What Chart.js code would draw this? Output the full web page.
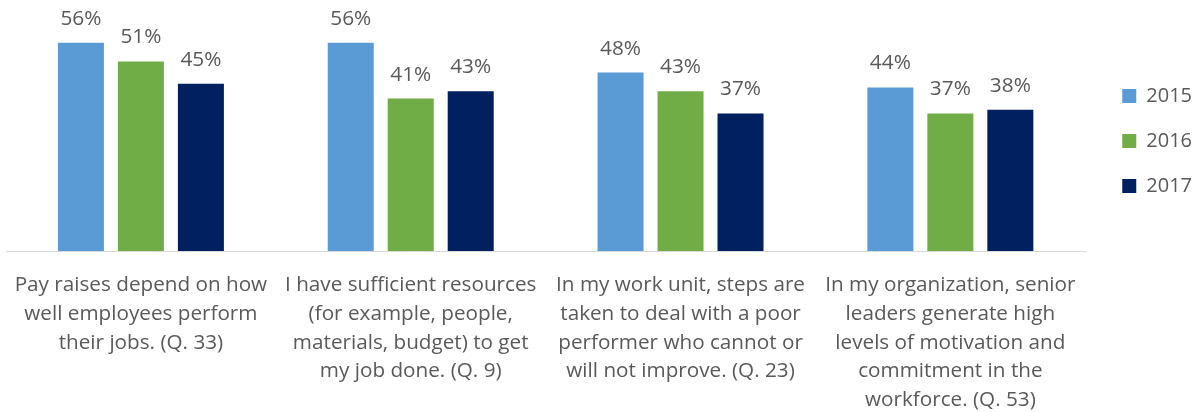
<!DOCTYPE html>
<html>
<head>
<meta charset="utf-8">
<script src="https://cdn.jsdelivr.net/npm/chart.js@4"></script>
<style>
  html, body { margin: 0; padding: 0; background: #fff; }
  #wrap { width: 1197px; height: 412px; }
</style>
</head>
<body>
<div id="wrap"><canvas id="chart" width="1197" height="412"></canvas></div>
<script>
/* ---------- Data ---------- */
const categories = [
  ['Pay raises depend on how', 'well employees perform', 'their jobs. (Q. 33)'],
  ['I have sufficient resources', '(for example, people,', 'materials, budget) to get', 'my job done. (Q. 9)'],
  ['In my work unit, steps are', 'taken to deal with a poor', 'performer who cannot or', 'will not improve. (Q. 23)'],
  ['In my organization, senior', 'leaders generate high', 'levels of motivation and', 'commitment in the', 'workforce. (Q. 53)']
];
const seriesNames = ['2015', '2016', '2017'];
const values2015 = [56, 56, 48, 44];
const values2016 = [51, 41, 43, 37];
const values2017 = [45, 43, 37, 38];
const colors = ['#5B9BD5', '#70AD47', '#002060'];

const FONT = "'Open Sans', sans-serif";
const TEXT = '#595959';

/* ---------- Value labels above bars ---------- */
const barLabels = {
  id: 'barLabels',
  afterDatasetsDraw(chart) {
    const ctx = chart.ctx;
    ctx.save();
    ctx.font = '20.8px ' + FONT;
    ctx.fillStyle = TEXT;
    ctx.textAlign = 'center';
    ctx.textBaseline = 'alphabetic';
    chart.data.datasets.forEach((ds, i) => {
      chart.getDatasetMeta(i).data.forEach((bar, j) => {
        ctx.fillText(ds.data[j] + '%', bar.x, bar.y - 18);
      });
    });
    ctx.restore();
  }
};

new Chart(document.getElementById('chart'), {
  type: 'bar',
  data: {
    labels: categories,
    datasets: [values2015, values2016, values2017].map((d, i) => ({
      label: seriesNames[i],
      data: d,
      backgroundColor: colors[i],
      categoryPercentage: 0.667,
      barPercentage: 0.767
    }))
  },
  options: {
    responsive: false,
    animation: false,
    devicePixelRatio: 1,
    layout: { padding: { left: 6, top: 28, right: -5, bottom: 0 } },
    plugins: {
      tooltip: { enabled: false },
      legend: {
        position: 'right',
        align: 'start',
        title: { display: true, text: '', font: { size: 20, family: FONT }, padding: { top: 9, bottom: 0 } },
        labels: {
          boxWidth: 14,
          boxHeight: 14,
          padding: 25,
          color: TEXT,
          font: { size: 20, family: FONT }
        }
      }
    },
    scales: {
      x: {
        grid: { display: false },
        border: { display: true, color: '#D9D9D9', width: 1 },
        ticks: {
          color: TEXT,
          font: { size: 20.7, family: FONT, lineHeight: 1.385 },
          maxRotation: 0,
          autoSkip: false,
          padding: 12
        },
        afterFit(s) { s.height = 161; }
      },
      y: {
        display: false,
        min: 0,
        max: 60
      },
      y2: {
        position: 'right',
        display: true,
        grid: { display: false },
        border: { display: false },
        ticks: { display: false },
        afterFit(s) { s.width = 12; }
      }
    }
  },
  plugins: [barLabels]
});
</script>
</body>
</html>
